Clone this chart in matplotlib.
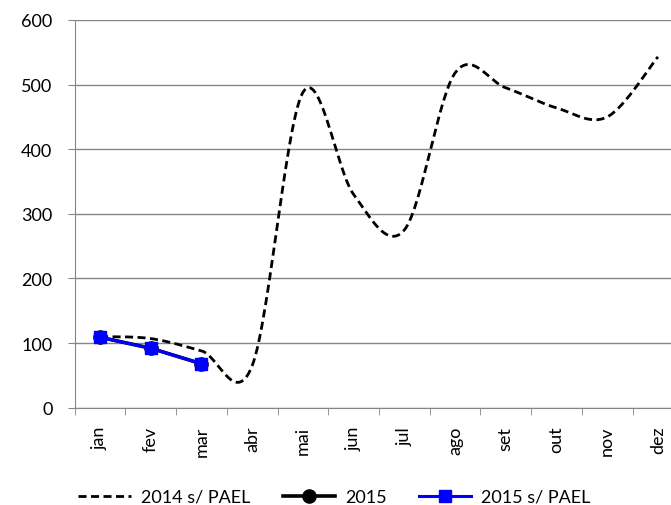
import matplotlib.pyplot as plt
import numpy as np

plt.rcParams['font.family'] = ['Lato', 'DejaVu Sans']

months = ['jan', 'fev', 'mar', 'abr', 'mai', 'jun', 'jul', 'ago', 'set', 'out', 'nov', 'dez']
pael_2014 = [110, 107, 88, 65, 488, 330, 275, 518, 495, 464, 450, 543]
y2015 = [109, 92, 68]
y2015_pael = [109, 92, 68]


def smooth(xs, ys, n=30):
    # Excel-like smoothed line (Catmull-Rom through the points)
    xs = np.asarray(xs, float)
    ys = np.asarray(ys, float)
    px = np.concatenate([[xs[0]], xs, [xs[-1]]])
    py = np.concatenate([[ys[0]], ys, [ys[-1]]])
    ox, oy = [], []
    for i in range(1, len(px) - 2):
        t = np.linspace(0, 1, n)
        p0, p1, p2, p3 = [np.array([px[j], py[j]]) for j in (i - 1, i, i + 1, i + 2)]
        c1 = p1 + (p2 - p0) / 6
        c2 = p2 - (p3 - p1) / 6
        b = ((1 - t) ** 3)[:, None] * p1 + (3 * (1 - t) ** 2 * t)[:, None] * c1 \
            + (3 * (1 - t) * t ** 2)[:, None] * c2 + (t ** 3)[:, None] * p2
        ox.extend(b[:, 0])
        oy.extend(b[:, 1])
    return np.array(ox), np.array(oy)


fig = plt.figure(figsize=(6.71, 5.06), dpi=100)
ax = fig.add_axes([0.1113, 0.1923, 0.907, 0.7662])

x = np.arange(len(months))
sx, sy = smooth(x, pael_2014)
ax.plot(sx, sy, color='black', lw=2.0, ls=(0, (2.9, 1.6)), label='2014 s/ PAEL')
ax.plot(x[:3], y2015, color='black', lw=2.6, marker='o', ms=9.5, label='2015')
ax.plot(x[:3], y2015_pael, color='#0000ff', lw=2.2, marker='s', ms=8,
        markeredgecolor='#0000ff', label='2015 s/ PAEL')

ax.set_xlim(-0.5, 11.5)
ax.set_ylim(0, 600)
ax.set_yticks(range(0, 601, 100))
ax.set_xticks(x)
ax.set_xticklabels(months, rotation=90, fontsize=13)
ax.set_xticks(np.arange(-0.5, 12, 1), minor=True)
ax.tick_params(axis='x', which='major', length=0, pad=13)
ax.tick_params(axis='x', which='minor', length=5, color='#868686')
ax.tick_params(axis='y', length=5, color='#868686', labelsize=13, pad=11)
ax.grid(axis='y', color='#868686', lw=1)
ax.set_axisbelow(True)
for s in ['top', 'right']:
    ax.spines[s].set_visible(False)
for s in ['left', 'bottom']:
    ax.spines[s].set_color('#868686')

fig.legend(loc='center', bbox_to_anchor=(0.4985, 8 / 506), ncol=3, frameon=False,
           fontsize=13, handlelength=2.9, handletextpad=0.55, columnspacing=1.8,
           borderpad=0)

fig.savefig('out.png', dpi=100)
